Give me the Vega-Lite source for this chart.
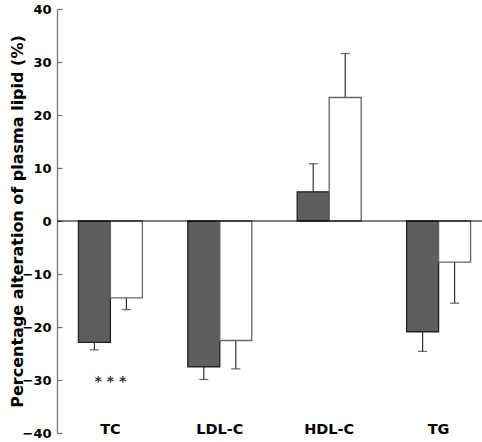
{
  "$schema": "https://vega.github.io/schema/vega-lite/v6.json",
  "autosize": {"type": "none"},
  "padding": {"left": 57, "top": 9, "right": 0, "bottom": 9},
  "width": 425,
  "height": 424,
  "background": "white",
  "config": {"view": {"stroke": null}, "font": "DejaVu Sans"},
  "datasets": {
    "bars": [
      {"lipid": "TC", "series": "Group 1", "value": -22.9, "err": -24.3},
      {"lipid": "TC", "series": "Group 2", "value": -14.5, "err": -16.7},
      {"lipid": "LDL-C", "series": "Group 1", "value": -27.5, "err": -29.9},
      {"lipid": "LDL-C", "series": "Group 2", "value": -22.55, "err": -27.9},
      {"lipid": "HDL-C", "series": "Group 1", "value": 5.5, "err": 10.8},
      {"lipid": "HDL-C", "series": "Group 2", "value": 23.3, "err": 31.6},
      {"lipid": "TG", "series": "Group 1", "value": -20.9, "err": -24.6},
      {"lipid": "TG", "series": "Group 2", "value": -7.75, "err": -15.5}
    ],
    "sig": [
      {"lipid": "TC", "y": -30.4, "label": "* * *"}
    ]
  },
  "layer": [
    {
      "data": {"name": "bars"},
      "mark": {"type": "rule", "color": "#333333", "strokeWidth": 1.2},
      "encoding": {
        "x": {"field": "lipid", "type": "nominal", "sort": ["TC", "LDL-C", "HDL-C", "TG"],
              "scale": {"range": [-1.3, 436.3], "paddingInner": 0, "paddingOuter": 0},
              "axis": {"orient": "bottom", "title": null, "domain": false, "ticks": false, "labelAngle": 0,
                       "labelPadding": 0, "labelBaseline": "alphabetic", "labelFont": "DejaVu Sans",
                       "labelFontWeight": "bold", "labelFontSize": 14.5, "labelColor": "#000000"}},
        "xOffset": {"field": "series", "type": "nominal", "scale": {"paddingInner": 0, "paddingOuter": 0.71}},
        "y": {"field": "value", "type": "quantitative",
              "scale": {"domain": [-40, 40], "nice": false, "zero": false},
              "axis": {"title": "Percentage alteration of plasma lipid (%)", "values": [-40, -30, -20, -10, 0, 10, 20, 30, 40],
                       "grid": false, "domainColor": "#777777", "domainWidth": 1.3, "tickColor": "#777777", "tickSize": -5, "tickWidth": 1.3,
                       "labelPadding": 11, "labelFont": "DejaVu Sans", "labelFontWeight": "bold", "labelFontSize": 13,
                       "labelColor": "#000000", "titleFont": "DejaVu Sans", "titleFontWeight": "bold", "titleFontSize": 16,
                       "titleColor": "#000000", "titlePadding": -3}},
        "y2": {"field": "err"}
      }
    },
    {
      "data": {"name": "bars"},
      "mark": {"type": "tick", "orient": "horizontal", "size": 9, "thickness": 1.3, "color": "#333333"},
      "encoding": {
        "x": {"field": "lipid", "type": "nominal", "sort": ["TC", "LDL-C", "HDL-C", "TG"]},
        "xOffset": {"field": "series", "type": "nominal"},
        "y": {"field": "err", "type": "quantitative"}
      }
    },
    {
      "data": {"name": "bars"},
      "mark": {"type": "bar", "strokeWidth": 1.3},
      "encoding": {
        "x": {"field": "lipid", "type": "nominal", "sort": ["TC", "LDL-C", "HDL-C", "TG"]},
        "xOffset": {"field": "series", "type": "nominal"},
        "y": {"field": "value", "type": "quantitative"},
        "y2": {"datum": 0},
        "fill": {"field": "series", "type": "nominal", "scale": {"domain": ["Group 1", "Group 2"], "range": ["#5e5e5e", "#ffffff"]}, "legend": null},
        "stroke": {"field": "series", "type": "nominal", "scale": {"domain": ["Group 1", "Group 2"], "range": ["#222222", "#666666"]}, "legend": null}
      }
    },
    {
      "data": {"values": [{"zero": 0}]},
      "mark": {"type": "rule", "color": "#000000", "strokeWidth": 1.2},
      "encoding": {"y": {"field": "zero", "type": "quantitative"}}
    },
    {
      "data": {"name": "sig"},
      "mark": {"type": "text", "fontSize": 14, "font": "DejaVu Sans", "fontWeight": "bold", "fill": "#333333", "baseline": "middle", "align": "center"},
      "encoding": {
        "x": {"field": "lipid", "type": "nominal", "sort": ["TC", "LDL-C", "HDL-C", "TG"]},
        "y": {"field": "y", "type": "quantitative"},
        "text": {"field": "label"}
      }
    }
  ]
}
